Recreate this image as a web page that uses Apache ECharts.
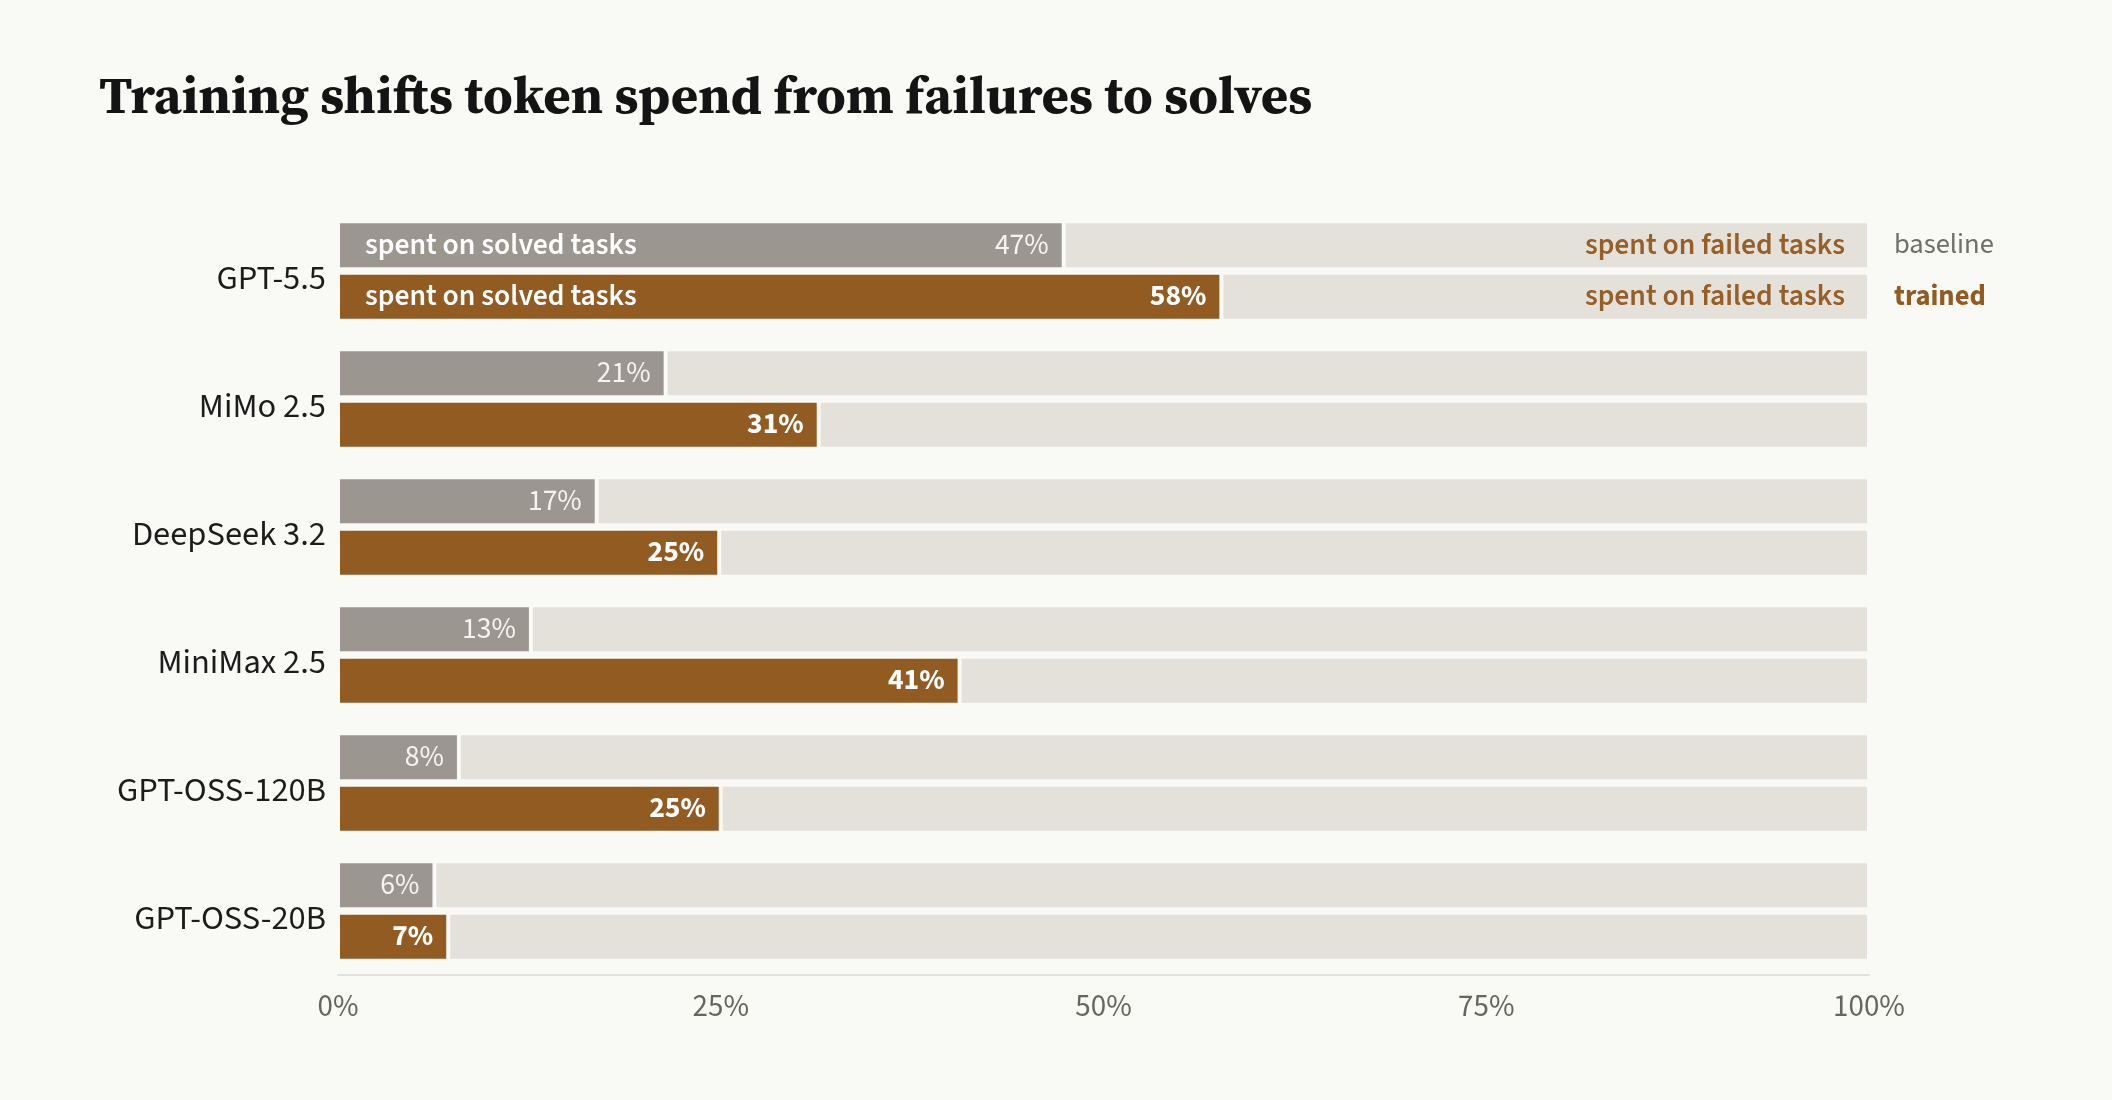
<!DOCTYPE html>
<html>
<head>
<meta charset="utf-8">
<script src="https://cdn.jsdelivr.net/npm/echarts@6/dist/echarts.min.js"></script>
<style>
  html, body { margin: 0; padding: 0; background: #f9f9f5; }
  #chart { width: 2112px; height: 1100px; }
</style>
</head>
<body>
<div id="chart"></div>
<script>
// data
const categories = ['GPT-5.5', 'MiMo 2.5', 'DeepSeek 3.2', 'MiniMax 2.5', 'GPT-OSS-120B', 'GPT-OSS-20B']
const baselineSolved = [47.4, 21.4, 16.9, 12.6, 7.9, 6.3]
const trainedSolved = [57.7, 31.4, 24.9, 40.6, 25.0, 7.2]
const xTicks = [0, 25, 50, 75, 100]
const rowTags = ['baseline', 'trained']

const BG = '#f9f9f5'
const GRAY = '#9b9790'
const BROWN = '#925b22'
const TRACK = '#e4e1db'
const SANS = "'Source Sans 3', 'Source Sans Pro', Lato, sans-serif"

const barBase = {
  type: 'bar',
  barWidth: 48,
  barGap: '7.5%',
  itemStyle: { borderColor: BG, borderWidth: 2 }
}

// one stack = leading tag, solved part, failed part, trailing row name
const makeStack = (stack, solved, color, pctLabel, tag, tagLabel) => [
  {
    ...barBase,
    name: stack + '-lead',
    stack,
    data: solved.map(() => 0),
    itemStyle: { color: 'transparent', borderWidth: 0 },
    label: {
      show: true,
      position: 'right',
      distance: 27,
      offset: [0, 2],
      formatter: (p) => (p.dataIndex === 0 ? 'spent on solved tasks' : ''),
      color: '#ffffff',
      fontFamily: SANS,
      fontWeight: 600,
      fontSize: 29.6
    },
    silent: true
  },
  {
    ...barBase,
    name: stack + '-solved',
    stack,
    data: solved,
    itemStyle: { color, borderColor: BG, borderWidth: 2 },
    label: {
      show: true,
      position: 'insideRight',
      distance: 15,
      offset: [0, 2],
      formatter: (p) => Math.round(p.value) + '%',
      fontFamily: SANS,
      fontSize: 29.6,
      ...pctLabel
    }
  },
  {
    ...barBase,
    name: stack + '-failed',
    stack,
    data: solved.map((v) => +(100 - v).toFixed(1)),
    itemStyle: { color: TRACK, borderColor: BG, borderWidth: 2 },
    label: {
      show: true,
      position: 'insideRight',
      distance: 24,
      offset: [0, 2],
      formatter: (p) => (p.dataIndex === 0 ? 'spent on failed tasks' : ''),
      color: '#975f26',
      fontFamily: SANS,
      fontWeight: 600,
      fontSize: 29.6
    }
  },
  {
    ...barBase,
    name: stack + '-tag',
    stack,
    data: solved.map(() => 0),
    itemStyle: { color: 'transparent', borderWidth: 0 },
    label: {
      show: true,
      position: 'right',
      distance: 25,
      offset: [0, 2],
      formatter: (p) => (p.dataIndex === 0 ? tag : ''),
      fontFamily: SANS,
      fontSize: 28.5,
      ...tagLabel
    },
    silent: true
  }
]

const chart = echarts.init(document.getElementById('chart'))

chart.setOption({
  backgroundColor: BG,
  animation: false,
  title: {
    text: 'Training shifts token spend from failures to solves',
    left: 94,
    top: 68,
    textStyle: {
      fontFamily: "'Source Serif 4', 'Source Serif Pro', 'Liberation Serif', serif",
      fontWeight: 'bold',
      fontSize: 52.8,
      color: '#141414'
    }
  },
  grid: {
    left: 338,
    right: 243,
    top: 207,
    bottom: 125
  },
  xAxis: {
    type: 'value',
    min: xTicks[0],
    max: xTicks[xTicks.length - 1],
    interval: 25,
    axisLine: { show: true, lineStyle: { color: '#e4e1dc', width: 2 } },
    axisTick: { show: false },
    splitLine: { show: false },
    axisLabel: {
      formatter: '{value}%',
      color: '#66665f',
      fontFamily: SANS,
      fontSize: 31,
      margin: 19
    }
  },
  yAxis: {
    type: 'category',
    data: categories,
    inverse: true,
    axisLine: { show: false },
    axisTick: { show: false },
    axisLabel: {
      color: '#1c1c1c',
      fontFamily: SANS,
      fontSize: 34.5,
      margin: 12,
      verticalAlign: 'top',
      lineHeight: 20
    }
  },
  series: [
    ...makeStack('baseline', baselineSolved, GRAY,
      { color: '#f6f4ef', fontWeight: 'normal' },
      rowTags[0], { color: '#6e6e69', fontWeight: 'normal' }),
    ...makeStack('trained', trainedSolved, BROWN,
      { color: '#ffffff', fontWeight: 'bold' },
      rowTags[1], { color: BROWN, fontWeight: 'bold' })
  ]
})
</script>
</body>
</html>
